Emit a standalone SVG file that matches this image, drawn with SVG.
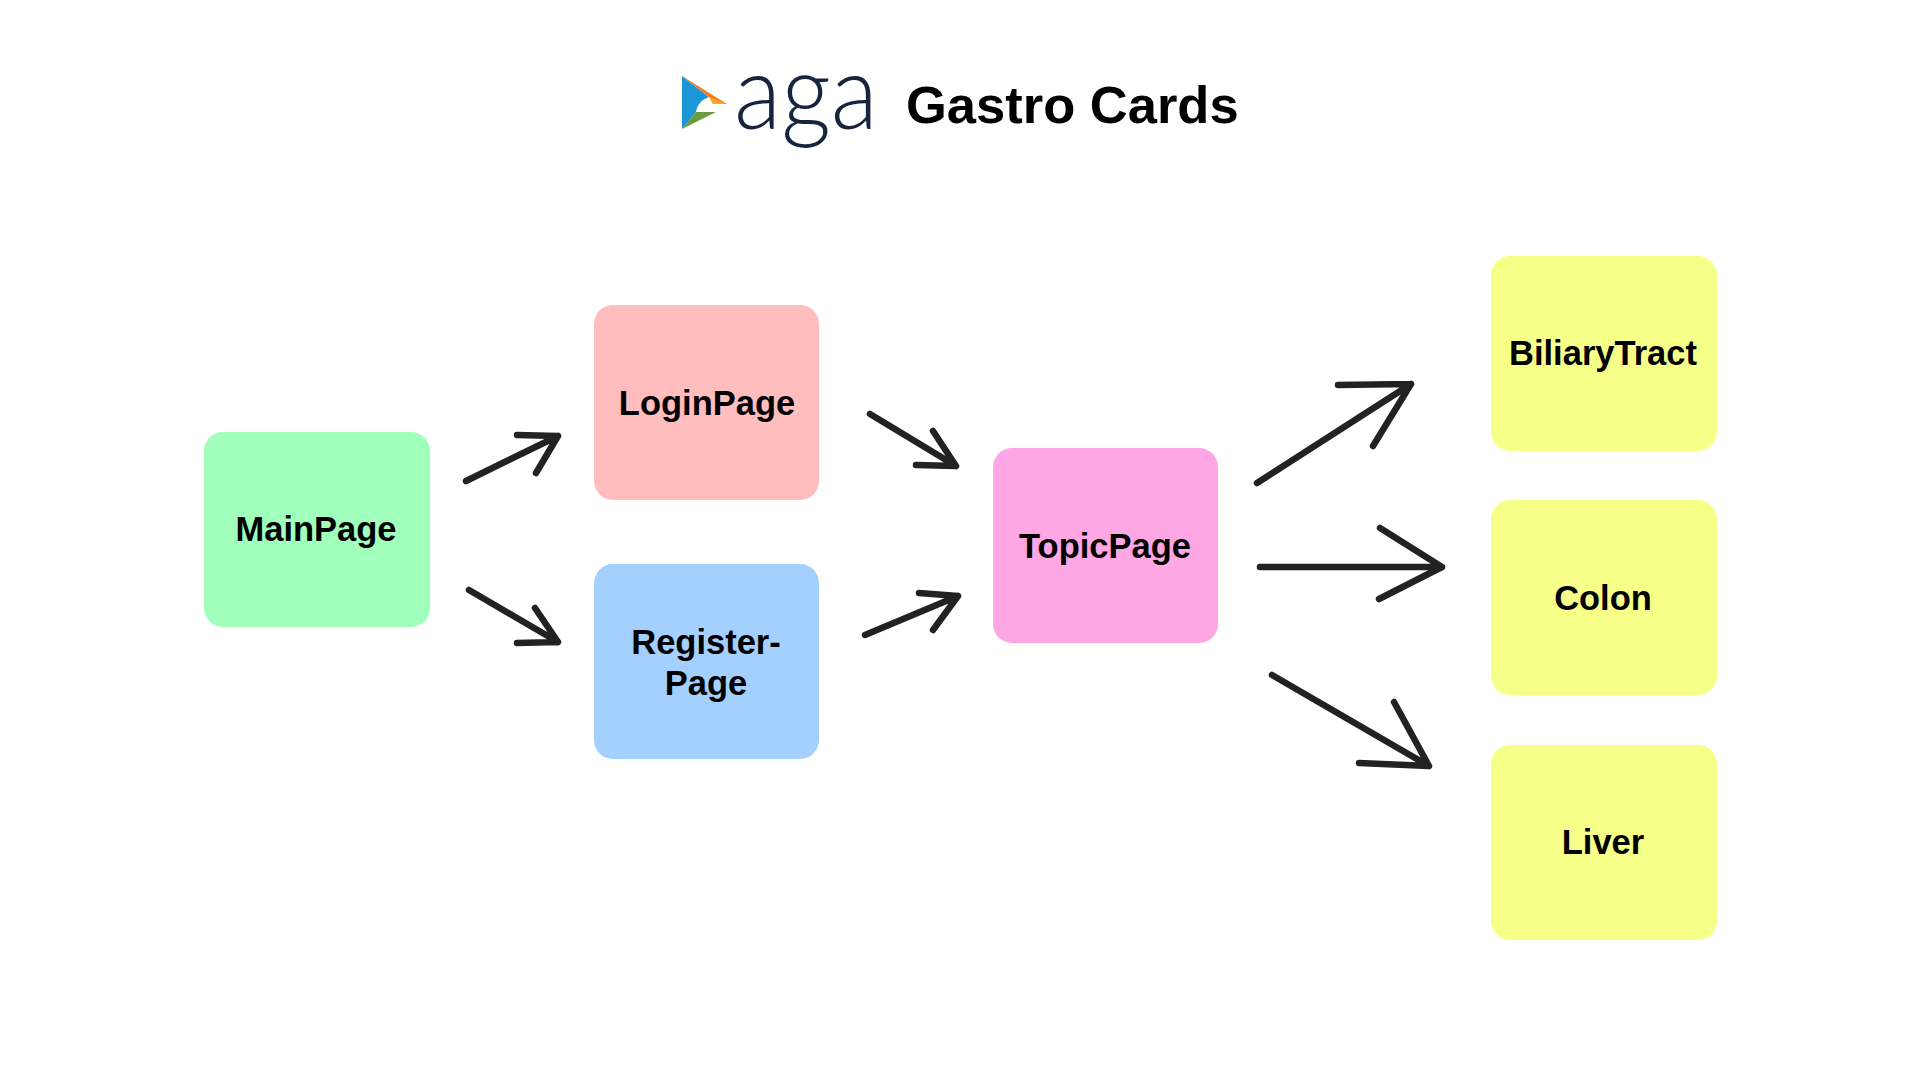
<svg xmlns="http://www.w3.org/2000/svg" width="1920" height="1080" viewBox="0 0 1920 1080">
<style>
.card{stroke:none}
.lbl{font-family:"Liberation Sans",Arial,sans-serif;font-weight:700;font-size:34.5px;fill:#000;text-anchor:middle}
.title{font-family:"Liberation Sans",Arial,sans-serif;font-weight:700;font-size:52.5px;fill:#000}
.aga{font-family:Lato,"Open Sans",sans-serif;font-weight:300;font-size:104px;fill:#16253d}
.arr{fill:none;stroke:#222;stroke-width:6.5;stroke-linecap:round;stroke-linejoin:round}
</style>
<rect width="1920" height="1080" fill="#fff"/>
<g id="logo">
<polygon points="682,76 709,97 696,112 682,129" fill="#1a96d6"/>
<polygon points="682,76 727,104 712,104 709,97" fill="#f47b20"/>
<polygon points="709,97 727,104 702,104 712,104 716,112" fill="#fba91a"/>
<polygon points="682,129 696,112 716,112" fill="#6a9b3e"/>
<polygon points="716,112 727,104 696,127" fill="#d3de4a"/>
<path d="M696,112 C697,104 703,99 709,97 C712,102 714,107 716,112 Z" fill="#fff"/>
<text class="aga" x="734" y="129" textLength="144" lengthAdjust="spacingAndGlyphs">aga</text>
</g>
<text class="title" id="title" x="906" y="123">Gastro Cards</text>
<g id="connectors">
<path class="arr" d="M466,481L558,436M517,435L558,436L536,473"/>
<path class="arr" d="M469,590L558,642M535,608L558,642L517,643"/>
<path class="arr" d="M870,414L956,466M933,431L956,466L916,465"/>
<path class="arr" d="M865,635L958,596M919,593L958,596L933,630"/>
<path class="arr" d="M1257,483L1411,384M1338,385L1411,384L1373,446"/>
<path class="arr" d="M1260,567L1442,567M1380,528L1442,567L1379,599"/>
<path class="arr" d="M1272,675L1429,766M1394,702L1429,766L1359,763"/>
</g>
<g id="MainPage"><rect class="card" x="204" y="432" width="226" height="195" rx="19" fill="#a0ffbb"/><text class="lbl" x="316" y="541">MainPage</text></g>
<g id="LoginPage"><rect class="card" x="594" y="305" width="225" height="195" rx="19" fill="#ffbdbd"/><text class="lbl" x="707" y="415">LoginPage</text></g>
<g id="RegisterPage"><rect class="card" x="594" y="564" width="225" height="195" rx="19" fill="#a3d0ff"/><text class="lbl" x="706" y="654">Register-</text><text class="lbl" x="706" y="695">Page</text></g>
<g id="TopicPage"><rect class="card" x="993" y="448" width="225" height="195" rx="19" fill="#ffa6e4"/><text class="lbl" x="1105" y="558">TopicPage</text></g>
<g id="BiliaryTract"><rect class="card" x="1491" y="256" width="226" height="195" rx="19" fill="#f6ff87"/><text class="lbl" x="1603" y="365">BiliaryTract</text></g>
<g id="Colon"><rect class="card" x="1491" y="500" width="226" height="195" rx="19" fill="#f6ff87"/><text class="lbl" x="1603" y="610">Colon</text></g>
<g id="Liver"><rect class="card" x="1491" y="745" width="226" height="195" rx="19" fill="#f6ff87"/><text class="lbl" x="1603" y="854">Liver</text></g>
</svg>
